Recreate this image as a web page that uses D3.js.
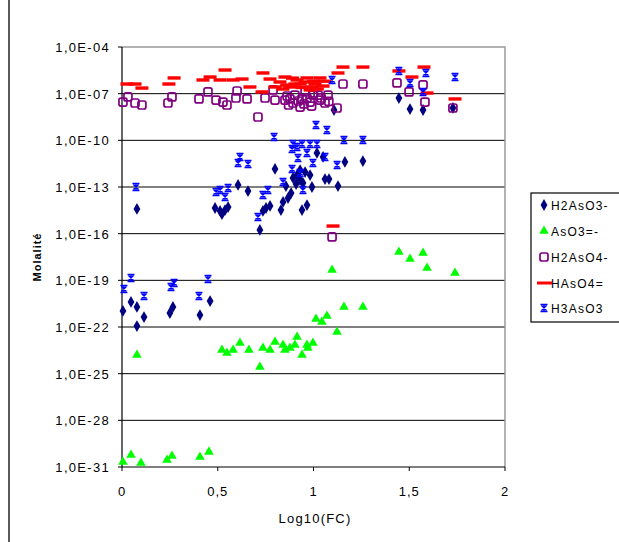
<!DOCTYPE html>
<html>
<head>
<meta charset="utf-8">
<script src="https://cdn.jsdelivr.net/npm/d3@7"></script>
<style>
  body { margin: 0; background: #fff; }
  text { font-family: "Liberation Sans", Arial, sans-serif; fill: #000; }
</style>
</head>
<body>
<div id="chart"></div>
<script>
// [log10(FC), log10(molalite)]
const h2aso3 = [
  [0.005,-20.97],[0.047,-20.39],[0.078,-20.71],[0.078,-21.94],[0.115,-21.36],[0.078,-14.41],
  [0.25,-21.10],[0.266,-20.71],[0.407,-21.23],[0.46,-20.33],[0.486,-14.35],[0.512,-14.54],
  [0.538,-14.48],[0.554,-14.29],[0.522,-14.74],[0.606,-12.87],[0.658,-13.26],[0.72,-15.76],
  [0.736,-14.54],[0.752,-14.35],[0.773,-14.22],[0.799,-11.84],[0.841,-13.96],[0.867,-13.71],
  [0.883,-13.39],[0.893,-12.42],[0.914,-12.23],[0.93,-12.55],[0.945,-12.74],[0.94,-14.48],
  [0.966,-14.16],[0.982,-12.23],[0.992,-13.00],[1.018,-10.81],[1.05,-11.07],[1.06,-12.49],
  [1.081,-12.49],[1.128,-12.94],[1.164,-11.39],[1.258,-11.33],[1.446,-7.28],[1.504,-7.99],
  [1.572,-8.05],[1.728,-7.92],[1.107,-8.05],[0.93,-11.91],[0.956,-12.04],[0.856,-12.94],
  [0.909,-12.81],[0.83,-14.48]
];
const aso3 = [
  [0.005,-30.68],[0.047,-30.23],[0.099,-30.74],[0.235,-30.55],[0.261,-30.29],[0.407,-30.36],
  [0.454,-30.03],[0.078,-23.80],[0.522,-23.48],[0.548,-23.67],[0.58,-23.48],[0.616,-23.03],
  [0.663,-23.48],[0.72,-24.57],[0.736,-23.35],[0.773,-23.48],[0.799,-22.96],[0.841,-23.16],
  [0.877,-23.35],[0.914,-22.64],[0.94,-23.80],[0.966,-23.16],[0.997,-23.03],[1.013,-21.49],
  [1.044,-21.68],[1.07,-21.29],[1.123,-22.32],[1.159,-20.71],[1.258,-20.71],[1.097,-18.34],
  [1.446,-17.18],[1.504,-17.63],[1.572,-17.24],[1.593,-18.21],[1.739,-18.53],[0.97,-23.35],
  [0.903,-23.16],[0.851,-23.48]
];
const h2aso4 = [
  [0.005,-7.54],[0.031,-7.21],[0.068,-7.60],[0.104,-7.73],[0.24,-7.60],[0.261,-7.21],
  [0.402,-7.34],[0.449,-6.89],[0.491,-7.41],[0.527,-7.54],[0.548,-7.73],[0.601,-6.83],
  [0.595,-7.28],[0.653,-7.34],[0.71,-8.50],[0.747,-7.28],[0.789,-6.76],[0.799,-7.41],
  [0.851,-7.41],[0.893,-7.60],[0.93,-7.86],[0.966,-7.28],[0.997,-7.09],[1.034,-7.41],
  [1.076,-7.09],[1.123,-7.92],[1.154,-6.38],[1.258,-6.38],[1.436,-6.31],[1.499,-6.89],
  [1.572,-6.44],[1.582,-7.54],[1.728,-7.92],[1.097,-16.21],[0.903,-7.09],[0.94,-7.34],
  [0.982,-7.54],[1.024,-7.09],[1.06,-7.60],[0.877,-7.34],[0.956,-6.89],[0.862,-7.15],
  [0.92,-7.47],[0.95,-7.66],[0.99,-7.80],[1.04,-7.28],[1.08,-7.50],[0.87,-7.73],[1.0,-6.95]
];
const haso4 = [
  [0.026,-6.38],[0.068,-6.38],[0.104,-6.64],[0.245,-6.38],[0.272,-5.99],[0.423,-6.12],
  [0.46,-5.93],[0.538,-5.48],[0.512,-6.12],[0.58,-6.12],[0.627,-6.06],[0.668,-6.57],
  [0.736,-5.67],[0.773,-6.06],[0.731,-6.89],[0.799,-6.57],[0.851,-5.93],[0.877,-6.57],
  [0.914,-6.12],[0.966,-5.99],[0.992,-6.57],[1.034,-5.99],[1.05,-6.51],[1.128,-5.67],
  [1.154,-5.29],[1.258,-5.29],[1.446,-5.54],[1.514,-5.93],[1.577,-5.29],[1.593,-6.96],
  [1.739,-7.34],[1.102,-15.51],[0.93,-6.38],[0.956,-6.25],[1.008,-6.38],[0.903,-6.38],
  [0.982,-6.76],[0.825,-6.25],[0.86,-6.45],[0.89,-6.0],[0.94,-6.6],[1.0,-6.2],
  [1.02,-6.7],[1.06,-6.2],[0.84,-6.7]
];
const h3aso3 = [
  [0.073,-13.00],[0.047,-18.85],[0.01,-19.56],[0.115,-20.01],[0.256,-19.43],[0.272,-19.17],
  [0.402,-20.01],[0.449,-18.91],[0.512,-13.19],[0.538,-13.64],[0.554,-13.06],[0.491,-13.32],
  [0.616,-11.07],[0.606,-11.46],[0.658,-11.52],[0.71,-14.93],[0.736,-13.51],[0.762,-13.19],
  [0.794,-9.79],[0.841,-12.68],[0.888,-10.56],[0.893,-10.24],[0.914,-10.43],[0.94,-10.24],
  [0.966,-10.81],[0.982,-10.24],[1.018,-10.24],[0.888,-11.84],[0.93,-12.10],[0.945,-13.19],
  [0.997,-11.46],[1.013,-9.01],[1.07,-9.34],[1.06,-11.07],[1.123,-11.59],[1.159,-9.98],
  [1.258,-9.98],[1.097,-6.12],[1.446,-5.54],[1.504,-6.31],[1.587,-5.67],[1.739,-5.93],
  [1.572,-6.89],[0.919,-11.14]
];

const seriesNames = ["H2AsO3-", "AsO3=-", "H2AsO4-", "HAsO4=", "H3AsO3"];
const yTicks = [-4, -7, -10, -13, -16, -19, -22, -25, -28, -31];
const xTicks = [0, 0.5, 1, 1.5, 2];
const xTickLabels = ["0", "0,5", "1", "1,5", "2"];

const width = 619, height = 542;
const svg = d3.select("#chart").append("svg")
    .attr("width", width)
    .attr("height", height);

const x = d3.scaleLinear().domain([0, 2]).range([122, 505]);
const y = d3.scaleLog().domain([1e-31, 1e-4]).range([467, 47]);

// chart area left edge
svg.append("line")
    .attr("x1", 9).attr("x2", 9).attr("y1", 0).attr("y2", height)
    .attr("stroke", "#222").attr("stroke-width", 1.5);

// gridlines
svg.append("g").selectAll("line")
  .data(yTicks.slice(1, -1))
  .join("line")
    .attr("x1", 122).attr("x2", 505)
    .attr("y1", d => y(Math.pow(10, d))).attr("y2", d => y(Math.pow(10, d)))
    .attr("stroke", "#000").attr("stroke-width", 1);

// plot border top/right (grey)
svg.append("path")
    .attr("d", "M122,47H505V467")
    .attr("fill", "none").attr("stroke", "#999").attr("stroke-width", 1.5);

// y axis
const yAxis = svg.append("g");
yAxis.append("line").attr("x1", 122).attr("x2", 122).attr("y1", 47).attr("y2", 467)
    .attr("stroke", "#000").attr("stroke-width", 1.2);
yAxis.selectAll(".tick")
  .data(yTicks)
  .join("line")
    .attr("x1", 118).attr("x2", 122)
    .attr("y1", d => y(Math.pow(10, d))).attr("y2", d => y(Math.pow(10, d)))
    .attr("stroke", "#000");
yAxis.selectAll("text")
  .data(yTicks)
  .join("text")
    .attr("x", 110)
    .attr("y", d => y(Math.pow(10, d)) + 5)
    .attr("text-anchor", "end")
    .attr("font-size", 13)
    .attr("letter-spacing", 1.3)
    .text(d => "1,0E-" + String(-d).padStart(2, "0"));

// x axis
const xAxis = svg.append("g");
xAxis.append("line").attr("x1", 122).attr("x2", 505).attr("y1", 467).attr("y2", 467)
    .attr("stroke", "#000").attr("stroke-width", 1.2);
xAxis.selectAll(".tick")
  .data(xTicks)
  .join("line")
    .attr("x1", d => x(d)).attr("x2", d => x(d))
    .attr("y1", 467).attr("y2", 471)
    .attr("stroke", "#000");
xAxis.selectAll("text")
  .data(xTicks)
  .join("text")
    .attr("x", d => x(d))
    .attr("y", 496)
    .attr("text-anchor", "middle")
    .attr("font-size", 13)
    .attr("letter-spacing", 1)
    .text((d, i) => xTickLabels[i]);

svg.append("text")
    .attr("x", 315).attr("y", 523)
    .attr("text-anchor", "middle")
    .attr("font-size", 13)
    .attr("letter-spacing", 1.2)
    .text("Log10(FC)");

svg.append("text")
    .attr("transform", "translate(41,257) rotate(-90)")
    .attr("text-anchor", "middle")
    .attr("font-size", 11)
    .attr("font-weight", "bold")
    .attr("letter-spacing", 1)
    .text("Molalité");

// marker shapes
const diamond = d3.symbol().type(d3.symbolDiamond).size(40)();
const triangle = d3.symbol().type(d3.symbolTriangle).size(40)();
const starPath = "M-3.5,-3.5H3.5M-3.5,3.5H3.5M-2.5,-2.5L2.5,2.5M2.5,-2.5L-2.5,2.5M0,-3.5V3.5";

const markers = [
  { data: h2aso3, draw: g => g.append("path").attr("d", diamond).attr("fill", "#000080") },
  { data: aso3, draw: g => g.append("path").attr("d", triangle).attr("fill", "#00ff00") },
  { data: h2aso4, draw: g => g.append("rect").attr("x", -4).attr("y", -4).attr("width", 8).attr("height", 8)
        .attr("rx", 2).attr("fill", "none").attr("stroke", "#800080").attr("stroke-width", 1.7) },
  { data: haso4, draw: g => g.append("rect").attr("x", -6.5).attr("y", -1.7).attr("width", 13).attr("height", 3.4)
        .attr("fill", "#ff0000") },
  { data: h3aso3, draw: g => g.append("path").attr("d", starPath).attr("fill", "none")
        .attr("stroke", "#0000ff").attr("stroke-width", 1.4) }
];

markers.forEach(m => {
  svg.append("g").selectAll("g")
    .data(m.data)
    .join("g")
      .attr("transform", d => `translate(${x(d[0])},${y(Math.pow(10, d[1]))})`)
      .each(function () { m.draw(d3.select(this)); });
});

// legend
const legend = svg.append("g");
legend.append("rect")
    .attr("x", 531).attr("y", 193).attr("width", 100).attr("height", 129)
    .attr("fill", "#fff").attr("stroke", "#000").attr("stroke-width", 1.2);
const rowY = [205, 231, 257, 283, 308];
seriesNames.forEach((name, i) => {
  const g = legend.append("g").attr("transform", `translate(544,${rowY[i]})`);
  if (i === 3) {
    g.append("line").attr("x1", -7).attr("x2", 8).attr("stroke", "#ff0000").attr("stroke-width", 3);
  } else {
    markers[i].draw(g);
  }
  legend.append("text")
      .attr("x", 551).attr("y", rowY[i] + 4.5)
      .attr("font-size", 12)
      .attr("letter-spacing", 1.2)
      .text(name);
});
</script>
</body>
</html>
